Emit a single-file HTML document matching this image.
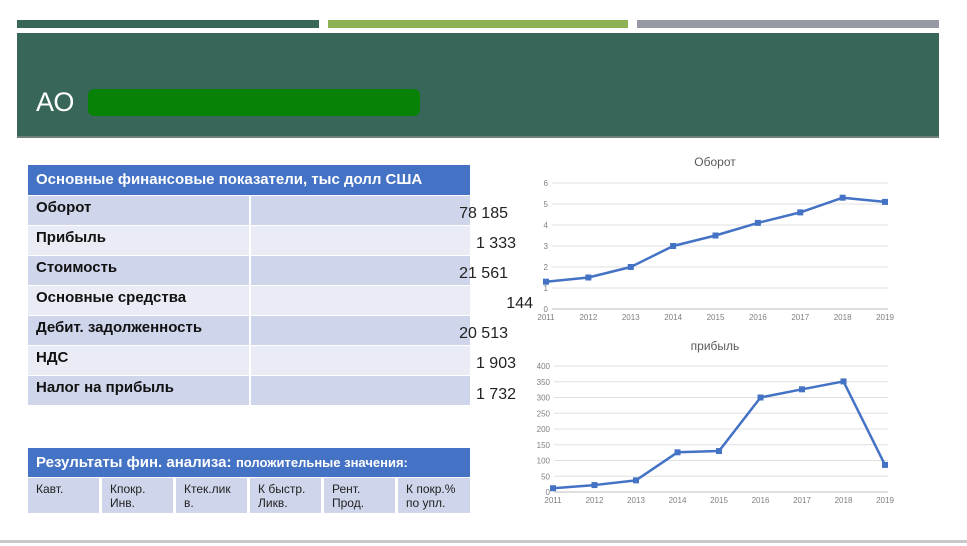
<!DOCTYPE html>
<html><head><meta charset="utf-8">
<style>
body{margin:0;width:967px;height:546px;overflow:hidden;background:#fff;font-family:"Liberation Sans","Noto Sans CJK SC",sans-serif;position:relative}
.a{position:absolute}
.row{position:absolute;left:28px;width:442px;height:29px}
.row .l{position:absolute;left:8px;top:3px;font-weight:bold;font-size:15px;color:#111}
.row .sep{position:absolute;left:221px;top:0;width:2px;height:29px;background:#fff}
.val{position:absolute;font-size:16px;color:#222;text-align:right;width:80px}
.c{position:absolute;top:478px;height:35px;width:71px;background:#cfd5ea;font-size:12px;color:#222;padding:4px 0 0 8px;box-sizing:border-box;line-height:14px}
</style></head><body>
<div class="a" style="left:17px;top:20px;width:302px;height:8px;background:#386658"></div>
<div class="a" style="left:328px;top:20px;width:300px;height:8px;background:#8db253"></div>
<div class="a" style="left:637px;top:20px;width:302px;height:8px;background:#9499a3"></div>
<div class="a" style="left:17px;top:33px;width:922px;height:103px;background:#386658;border-bottom:2px solid #6f7f79"></div>
<div class="a" style="left:36px;top:87px;font-size:27px;color:#fff">АО</div>
<div class="a" style="left:88px;top:89px;width:332px;height:27px;background:#078207;border-radius:6px"></div>

<div class="a" style="left:28px;top:165px;width:442px;height:30px;background:#4472c4;color:#fff;font-weight:bold;font-size:15px;line-height:30px;padding-left:8px;box-sizing:border-box">Основные финансовые показатели, тыс долл США</div>
<div class="row" style="top:196px;background:#cfd5ea"><span class="l">Оборот</span><span class="sep"></span></div>
<div class="row" style="top:226px;background:#e9ebf5"><span class="l">Прибыль</span><span class="sep"></span></div>
<div class="row" style="top:256px;background:#cfd5ea"><span class="l">Стоимость</span><span class="sep"></span></div>
<div class="row" style="top:286px;background:#e9ebf5"><span class="l">Основные средства</span><span class="sep"></span></div>
<div class="row" style="top:316px;background:#cfd5ea"><span class="l">Дебит. задолженность</span><span class="sep"></span></div>
<div class="row" style="top:346px;background:#e9ebf5"><span class="l">НДС</span><span class="sep"></span></div>
<div class="row" style="top:376px;background:#cfd5ea"><span class="l">Налог на прибыль</span><span class="sep"></span></div>
<div class="val" style="left:428px;top:205px">78 185</div>
<div class="val" style="left:436px;top:235px">1 333</div>
<div class="val" style="left:428px;top:265px">21 561</div>
<div class="val" style="left:453px;top:295px">144</div>
<div class="val" style="left:428px;top:325px">20 513</div>
<div class="val" style="left:436px;top:355px">1 903</div>
<div class="val" style="left:436px;top:386px">1 732</div>

<div class="a" style="left:28px;top:448px;width:442px;height:29px;background:#4472c4;color:#fff;font-weight:bold;line-height:29px;padding-left:8px;box-sizing:border-box;white-space:nowrap"><span style="font-size:15px">Результаты фин. анализа:</span> <span style="font-size:13px">положительные значения:</span></div>
<div class="c" style="left:28px">Кавт.</div>
<div class="c" style="left:102px">Кпокр.<br>Инв.</div>
<div class="c" style="left:176px">Ктек.лик<br>в.</div>
<div class="c" style="left:250px">К быстр.<br>Ликв.</div>
<div class="c" style="left:324px">Рент.<br>Прод.</div>
<div class="c" style="left:398px;width:72px">К покр.%<br>по упл.</div>

<svg class="a" style="left:0;top:0" width="967" height="546" id="svg"></svg>
<div class="a" style="left:0;top:540px;width:967px;height:3px;background:#c8c8c8"></div>

<script>
const years=["2011","2012","2013","2014","2015","2016","2017","2018","2019"];
const turnoverValues=[1.3,1.5,2,3,3.5,4.1,4.6,5.3,5.1];
const turnoverTicks=[0,1,2,3,4,5,6];
const profitValues=[12,22,37,126,130,300,326,351,86];
const profitTicks=[0,50,100,150,200,250,300,350,400];
const svg=document.getElementById('svg');
const NS='http://www.w3.org/2000/svg';
function mk(t,a){const e=document.createElementNS(NS,t);for(const k in a)e.setAttribute(k,a[k]);svg.appendChild(e);return e;}
function chart(name,title,vals,ticks,x0,x1,y0,y1,titleY,gridX0){
  const max=ticks[ticks.length-1];
  const xs=i=>x0+(x1-x0)*i/(years.length-1);
  const ys=v=>y0-(y0-y1)*v/max;
  const t=mk('text',{x:715,y:titleY,'text-anchor':'middle','font-size':12,fill:'#595959','font-family':'Liberation Sans'});
  t.textContent=title;
  
  
  ticks.forEach(v=>{
    const g=mk('line',{x1:gridX0,x2:888,y1:ys(v),y2:ys(v),stroke:v===0?'#bfbfbf':'#e0e0e0','stroke-width':1});
    
    
    const l=mk('text',{x:gridX0-4,y:ys(v)+3,'text-anchor':'end','font-size':8,fill:'#7f7f7f','font-family':'Liberation Sans'});
    l.textContent=v;
    
    
  });
  years.forEach((y,i)=>{
    const l=mk('text',{x:xs(i),y:y0+11,'text-anchor':'middle','font-size':8,fill:'#7f7f7f','font-family':'Liberation Sans'});
    l.textContent=y;
    
    
  });
  const p=mk('polyline',{points:vals.map((v,i)=>xs(i)+','+ys(v)).join(' '),fill:'none',stroke:'#4472c4','stroke-width':2.5,'stroke-linejoin':'round'});
  
  
  vals.forEach((v,i)=>{
    const m=mk('rect',{x:xs(i)-3,y:ys(v)-3,width:6,height:6,fill:'#4472c4'});
    
    
  });
}
chart('turnover-chart','Оборот',turnoverValues,turnoverTicks,546,885,309,183,166,552);
chart('profit-chart','прибыль',profitValues,profitTicks,553,885,492,366,350,554);
</script>
</body></html>
